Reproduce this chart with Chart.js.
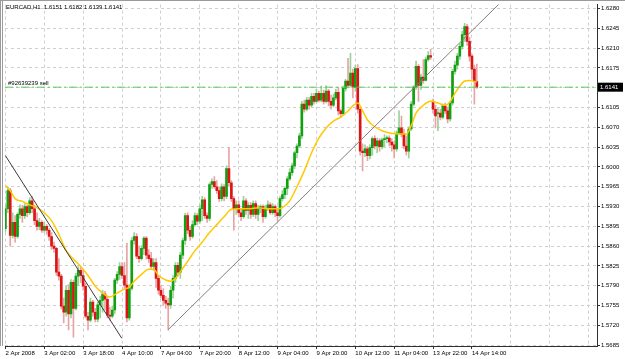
<!DOCTYPE html>
<html>
<head>
<meta charset="utf-8">
<script src="https://cdn.jsdelivr.net/npm/chart.js@4.4.1/dist/chart.umd.min.js"></script>
<style>
  html, body { margin: 0; padding: 0; background: #fff; }
  canvas { display: block; }
</style>
</head>
<body>
<canvas id="grafico" width="625" height="359"></canvas>
<script>
// EURCAD H1, 2 Apr 2008 10:00 -> 14 Apr 2008 ~16:00
const symbol = 'EURCAD,H1';
const orderLabel = '#92639239 sell';
const orderPrice = 1.6141;

const xTickIndex = [0, 16, 32, 48, 64, 80, 96, 112, 128, 144, 160, 176, 192, 208, 224, 240];
const xTickLabels = ['2 Apr 2008', '3 Apr 02:00', '3 Apr 18:00', '4 Apr 10:00', '7 Apr 04:00', '7 Apr 20:00',
    '8 Apr 12:00', '9 Apr 04:00', '9 Apr 20:00', '10 Apr 12:00', '11 Apr 04:00', '13 Apr 22:00',
    '14 Apr 14:00', '', '', ''];
const yTicks = [1.5685, 1.5720, 1.5755, 1.5790, 1.5825, 1.5860, 1.5895, 1.5930, 1.5965, 1.6000,
    1.6035, 1.6070, 1.6105, 1.6140, 1.6175, 1.6210, 1.6245, 1.6280];

const opens = [
    1.5891, 1.5926, 1.5958, 1.5879, 1.5902, 1.5877, 1.5916, 1.5926, 1.5914, 1.5930,
    1.5919, 1.5940, 1.5926, 1.5905, 1.5895, 1.5902, 1.5888, 1.5895, 1.5888, 1.5877,
    1.5860, 1.5856, 1.5814, 1.5807, 1.5754, 1.5743, 1.5782, 1.5740, 1.5796, 1.5750,
    1.5807, 1.5817, 1.5808, 1.5789, 1.5736, 1.5729, 1.5761, 1.5743, 1.5731, 1.5756,
    1.5764, 1.5775, 1.5766, 1.5738, 1.5736, 1.5747, 1.5800, 1.5810, 1.5824, 1.5808,
    1.5791, 1.5733, 1.5785, 1.5870, 1.5877, 1.5842, 1.5838, 1.5856, 1.5874, 1.5844,
    1.5838, 1.5824, 1.5831, 1.5803, 1.5782, 1.5773, 1.5764, 1.5759, 1.5756, 1.5782,
    1.5803, 1.5826, 1.5814, 1.5844, 1.5870, 1.5914, 1.5888, 1.5877, 1.5898, 1.5914,
    1.5904, 1.5926, 1.5942, 1.5914, 1.5909, 1.5969, 1.5974, 1.5965, 1.5958, 1.5944,
    1.5965, 1.5948, 1.5997, 1.5972, 1.5944, 1.5926, 1.5933, 1.5919, 1.5912, 1.5940,
    1.5923, 1.5932, 1.5916, 1.5935, 1.5916, 1.5926, 1.5930, 1.5912, 1.5926, 1.5933,
    1.5919, 1.5930, 1.5919, 1.5914, 1.5944, 1.5951, 1.5962, 1.5979, 1.5990, 1.6002,
    1.6025, 1.6037, 1.6055, 1.6111, 1.6102, 1.6118, 1.6109, 1.6125, 1.6116, 1.6130,
    1.6118, 1.6130, 1.6116, 1.6134, 1.6116, 1.6109, 1.6122, 1.6132, 1.6099, 1.6094,
    1.6139, 1.6152, 1.6144, 1.6166, 1.6141, 1.6174, 1.6102, 1.6028, 1.6025, 1.6032,
    1.6020, 1.6034, 1.6050, 1.6037, 1.6046, 1.6036, 1.6048, 1.6050, 1.6051, 1.6044,
    1.6039, 1.6032, 1.6060, 1.6069, 1.6058, 1.6037, 1.6028, 1.6067, 1.6111, 1.6141,
    1.6178, 1.6144, 1.6159, 1.6153, 1.6190, 1.6197, 1.6116, 1.6102, 1.6094, 1.6095,
    1.6088, 1.6108, 1.6099, 1.6085, 1.6113, 1.6169, 1.6180, 1.6196, 1.6213, 1.6234,
    1.6248, 1.6222, 1.6196, 1.6173, 1.6151
];
const highs = [
    1.5933, 1.5965, 1.5962, 1.5919, 1.5914, 1.5919, 1.5933, 1.5932, 1.5935, 1.5933,
    1.5946, 1.5948, 1.5932, 1.5919, 1.5909, 1.5905, 1.5902, 1.5898, 1.5891, 1.5884,
    1.5867, 1.5858, 1.5838, 1.5810, 1.5768, 1.5789, 1.5792, 1.5801, 1.5800, 1.5812,
    1.5824, 1.5824, 1.5817, 1.5794, 1.5743, 1.5768, 1.5764, 1.5750, 1.5761, 1.5771,
    1.5782, 1.5780, 1.5771, 1.5752, 1.5754, 1.5803, 1.5815, 1.5831, 1.5831, 1.5831,
    1.5865, 1.5792, 1.5875, 1.5884, 1.5882, 1.5860, 1.5861, 1.5877, 1.5877, 1.5854,
    1.5849, 1.5838, 1.5838, 1.5808, 1.5791, 1.5785, 1.5771, 1.5768, 1.5789, 1.5808,
    1.5831, 1.5831, 1.5849, 1.5874, 1.5918, 1.5919, 1.5895, 1.5905, 1.5919, 1.5918,
    1.5932, 1.5948, 1.5946, 1.5919, 1.5972, 1.5979, 1.5983, 1.5976, 1.5965, 1.5970,
    1.5969, 1.6002, 1.6034, 1.5976, 1.5948, 1.5940, 1.5940, 1.5926, 1.5948, 1.5944,
    1.5937, 1.5937, 1.5940, 1.5940, 1.5932, 1.5933, 1.5933, 1.5932, 1.5940, 1.5937,
    1.5935, 1.5933, 1.5926, 1.5948, 1.5958, 1.5965, 1.5983, 1.5997, 1.6007, 1.6028,
    1.6041, 1.6060, 1.6116, 1.6118, 1.6123, 1.6123, 1.6130, 1.6130, 1.6137, 1.6134,
    1.6143, 1.6136, 1.6144, 1.6137, 1.6127, 1.6129, 1.6137, 1.6141, 1.6102, 1.6143,
    1.6155, 1.6192, 1.6201, 1.6173, 1.6180, 1.6181, 1.6106, 1.6041, 1.6039, 1.6036,
    1.6039, 1.6053, 1.6055, 1.6051, 1.6050, 1.6051, 1.6057, 1.6055, 1.6055, 1.6050,
    1.6046, 1.6064, 1.6099, 1.6090, 1.6067, 1.6055, 1.6071, 1.6116, 1.6144, 1.6187,
    1.6181, 1.6164, 1.6190, 1.6194, 1.6204, 1.6208, 1.6120, 1.6109, 1.6104, 1.6102,
    1.6111, 1.6113, 1.6106, 1.6116, 1.6173, 1.6187, 1.6201, 1.6218, 1.6240, 1.6254,
    1.6252, 1.6229, 1.6199, 1.6180, 1.6182
];
const lows = [
    1.5884, 1.5919, 1.5860, 1.5874, 1.5867, 1.5874, 1.5909, 1.5902, 1.5909, 1.5912,
    1.5916, 1.5919, 1.5898, 1.5888, 1.5889, 1.5884, 1.5884, 1.5881, 1.5870, 1.5854,
    1.5849, 1.5808, 1.5800, 1.5749, 1.5724, 1.5736, 1.5712, 1.5733, 1.5699, 1.5747,
    1.5791, 1.5796, 1.5782, 1.5733, 1.5712, 1.5726, 1.5736, 1.5726, 1.5726, 1.5733,
    1.5743, 1.5747, 1.5733, 1.5729, 1.5733, 1.5740, 1.5794, 1.5801, 1.5803, 1.5785,
    1.5726, 1.5729, 1.5782, 1.5863, 1.5838, 1.5831, 1.5835, 1.5845, 1.5837, 1.5831,
    1.5819, 1.5817, 1.5787, 1.5775, 1.5768, 1.5756, 1.5750, 1.5712, 1.5750, 1.5768,
    1.5796, 1.5807, 1.5803, 1.5838, 1.5863, 1.5882, 1.5870, 1.5874, 1.5895, 1.5898,
    1.5900, 1.5905, 1.5909, 1.5902, 1.5905, 1.5962, 1.5962, 1.5953, 1.5939, 1.5940,
    1.5940, 1.5944, 1.5967, 1.5939, 1.5888, 1.5916, 1.5912, 1.5905, 1.5909, 1.5916,
    1.5909, 1.5909, 1.5912, 1.5909, 1.5905, 1.5919, 1.5902, 1.5909, 1.5923, 1.5916,
    1.5916, 1.5912, 1.5905, 1.5911, 1.5940, 1.5944, 1.5951, 1.5976, 1.5985, 1.5997,
    1.6016, 1.6034, 1.6050, 1.6097, 1.6099, 1.6102, 1.6106, 1.6111, 1.6113, 1.6115,
    1.6115, 1.6111, 1.6113, 1.6108, 1.6102, 1.6106, 1.6118, 1.6092, 1.6087, 1.6092,
    1.6134, 1.6141, 1.6141, 1.6122, 1.6134, 1.6095, 1.6021, 1.5993, 1.6018, 1.6011,
    1.6014, 1.6021, 1.6032, 1.6025, 1.6028, 1.6032, 1.6036, 1.6043, 1.6037, 1.6028,
    1.6016, 1.6028, 1.6057, 1.6053, 1.6032, 1.6021, 1.6016, 1.6064, 1.6108, 1.6137,
    1.6116, 1.6137, 1.6148, 1.6152, 1.6187, 1.6190, 1.6095, 1.6069, 1.6064, 1.6083,
    1.6085, 1.6094, 1.6078, 1.6081, 1.6109, 1.6164, 1.6173, 1.6190, 1.6208, 1.6222,
    1.6215, 1.6187, 1.6155, 1.6111, 1.6139
];
const closes = [
    1.5926, 1.5958, 1.5879, 1.5902, 1.5877, 1.5916, 1.5926, 1.5914, 1.5930, 1.5919,
    1.5940, 1.5926, 1.5905, 1.5895, 1.5902, 1.5888, 1.5895, 1.5888, 1.5877, 1.5860,
    1.5856, 1.5814, 1.5807, 1.5754, 1.5743, 1.5782, 1.5740, 1.5796, 1.5750, 1.5807,
    1.5817, 1.5808, 1.5789, 1.5736, 1.5729, 1.5761, 1.5743, 1.5731, 1.5756, 1.5764,
    1.5775, 1.5766, 1.5738, 1.5736, 1.5747, 1.5800, 1.5810, 1.5824, 1.5808, 1.5791,
    1.5733, 1.5785, 1.5870, 1.5877, 1.5842, 1.5838, 1.5856, 1.5874, 1.5844, 1.5838,
    1.5824, 1.5831, 1.5803, 1.5782, 1.5773, 1.5764, 1.5759, 1.5756, 1.5782, 1.5803,
    1.5826, 1.5814, 1.5844, 1.5870, 1.5914, 1.5888, 1.5877, 1.5898, 1.5914, 1.5904,
    1.5926, 1.5942, 1.5914, 1.5909, 1.5969, 1.5974, 1.5965, 1.5958, 1.5944, 1.5965,
    1.5948, 1.5997, 1.5972, 1.5944, 1.5926, 1.5933, 1.5919, 1.5912, 1.5940, 1.5923,
    1.5932, 1.5916, 1.5935, 1.5916, 1.5926, 1.5930, 1.5912, 1.5926, 1.5933, 1.5919,
    1.5930, 1.5919, 1.5914, 1.5944, 1.5951, 1.5962, 1.5979, 1.5990, 1.6002, 1.6025,
    1.6037, 1.6055, 1.6111, 1.6102, 1.6118, 1.6109, 1.6125, 1.6116, 1.6130, 1.6118,
    1.6130, 1.6116, 1.6134, 1.6116, 1.6109, 1.6122, 1.6132, 1.6099, 1.6094, 1.6139,
    1.6152, 1.6144, 1.6166, 1.6141, 1.6174, 1.6102, 1.6028, 1.6025, 1.6032, 1.6020,
    1.6034, 1.6050, 1.6037, 1.6046, 1.6036, 1.6048, 1.6050, 1.6051, 1.6044, 1.6039,
    1.6032, 1.6060, 1.6069, 1.6058, 1.6037, 1.6028, 1.6067, 1.6111, 1.6141, 1.6178,
    1.6144, 1.6159, 1.6153, 1.6190, 1.6197, 1.6194, 1.6102, 1.6090, 1.6095, 1.6088,
    1.6108, 1.6099, 1.6085, 1.6113, 1.6169, 1.6180, 1.6196, 1.6213, 1.6234, 1.6248,
    1.6222, 1.6196, 1.6173, 1.6151, 1.6141
];

// moving average (yellow), read at these bars
const maIndex = [0, 2, 4, 7, 10, 13, 16, 19, 22, 25, 28, 31, 34, 37, 40, 43, 46, 49, 51, 53,
    56, 59, 61, 63, 66, 68, 70, 72, 75, 78, 81, 84, 87, 90, 93, 96, 100, 104, 108, 112,
    114, 117, 120, 123, 126, 129, 132, 135, 138, 141, 143, 145, 147, 149, 152, 155, 158, 162, 165, 167,
    169, 172, 175, 178, 181, 183, 185, 187, 189, 191, 194];
const maValues = [1.5967, 1.5958, 1.5944, 1.5939, 1.5933, 1.5928, 1.5919, 1.5905, 1.5881, 1.5852,
    1.5837, 1.5824, 1.5808, 1.5789, 1.5777, 1.5770, 1.5777, 1.5784, 1.5787, 1.5798,
    1.5810, 1.5819, 1.5819, 1.5808, 1.5800, 1.5798, 1.5803, 1.5815, 1.5833, 1.5852,
    1.5867, 1.5884, 1.5898, 1.5912, 1.5925, 1.5926, 1.5926, 1.5928, 1.5926, 1.5926,
    1.5928, 1.5940, 1.5965, 1.5993, 1.6025, 1.6051, 1.6069, 1.6081, 1.6088, 1.6099,
    1.6108, 1.6113, 1.6099, 1.6083, 1.6071, 1.6064, 1.6060, 1.6058, 1.6058, 1.6073,
    1.6095, 1.6109, 1.6116, 1.6113, 1.6109, 1.6115, 1.6130, 1.6143, 1.6152, 1.6153, 1.6150];

// trend lines (bar index, price)
const downTrendIndex = [0, 47.9];
const downTrendValues = [1.6020, 1.5697];
const upTrendIndex = [66.9, 206];
const upTrendValues = [1.5712, 1.6300];

const font6 = { family: 'Liberation Sans', size: 6 };
const isUp = i => closes[i] >= opens[i];
const points = (xs, ys) => xs.map((x, k) => ({ x: x, y: ys[k] }));

const overlay = {
    id: 'overlay',
    afterDraw(chart) {
        const { ctx, chartArea, scales } = chart;
        const last = opens.length - 1;
        const py = scales.y.getPixelForValue(orderPrice);
        ctx.save();
        // window frame
        ctx.strokeStyle = '#9a9a9a';
        ctx.lineWidth = 1;
        ctx.beginPath();
        ctx.moveTo(0, 0.5); ctx.lineTo(chart.width, 0.5);
        ctx.moveTo(0.5, 0); ctx.lineTo(0.5, chartArea.bottom);
        ctx.moveTo(2.5, 0); ctx.lineTo(2.5, chartArea.bottom);
        ctx.stroke();

        ctx.font = '6px "Liberation Sans"';
        ctx.textBaseline = 'middle';
        ctx.fillStyle = '#000';
        ctx.fillText(symbol + '  ' + [opens[last], highs[last], lows[last], closes[last]]
            .map(v => v.toFixed(4)).join(' '), 6, 7);
        ctx.fillText(orderLabel, 8, py - 4);

        // current price box on the axis
        ctx.fillStyle = '#000';
        ctx.fillRect(chartArea.right + 1, py - 4.5, 25, 9);
        ctx.fillStyle = '#fff';
        ctx.fillText(orderPrice.toFixed(4), chartArea.right + 3, py);
        ctx.restore();
    }
};

new Chart(document.getElementById('grafico'), {
    type: 'bar',
    data: {
        datasets: [{
            type: 'line',
            label: orderLabel,
            data: points([-0.16, 243.46], [orderPrice, orderPrice]),
            borderColor: '#56cc56',
            borderWidth: 1,
            borderDash: [8, 3, 2, 3],
            pointRadius: 0,
            order: 0
        }, {
            type: 'line',
            label: 'down trend',
            data: points(downTrendIndex, downTrendValues),
            borderColor: '#3c3c3c',
            borderWidth: 1,
            pointRadius: 0,
            order: 0
        }, {
            type: 'line',
            label: 'up trend',
            data: points(upTrendIndex, upTrendValues),
            borderColor: '#8a7c7c',
            borderWidth: 1,
            pointRadius: 0,
            order: 0
        }, {
            type: 'line',
            label: 'MA',
            data: points(maIndex, maValues),
            borderColor: '#ffc800',
            borderWidth: 1.5,
            pointRadius: 0,
            cubicInterpolationMode: 'monotone',
            order: 1
        }, {
            label: 'body',
            data: opens.map((o, i) => ({ x: i, y: [o, closes[i]] })),
            backgroundColor: c => isUp(c.dataIndex) ? '#10a010' : '#dc1414',
            barThickness: 2,
            minBarLength: 1,
            grouped: false,
            order: 2
        }, {
            label: 'wick',
            data: lows.map((l, i) => ({ x: i, y: [l, highs[i]] })),
            backgroundColor: c => isUp(c.dataIndex) ? '#9ad29a' : '#e8a4a4',
            barThickness: 1,
            grouped: false,
            order: 3
        }]
    },
    options: {
        responsive: false,
        animation: false,
        events: [],
        layout: { padding: { top: 3, left: 5, right: 0, bottom: 0 } },
        plugins: {
            legend: { display: false },
            tooltip: { enabled: false }
        },
        scales: {
            x: {
                type: 'linear',
                min: -0.16,
                max: 243.46,
                offset: false,
                afterBuildTicks: s => { s.ticks = xTickIndex.map(v => ({ value: v })); },
                afterFit: s => { s.height = 13; },
                grid: {
                    offset: false,
                    color: '#cfcfcf',
                    tickLength: 3,
                    tickColor: c => xTickLabels[c.index] ? '#303030' : 'rgba(0,0,0,0)',
                    tickBorderDash: []
                },
                border: { color: '#303030', dash: [3, 3] },
                ticks: {
                    autoSkip: false,
                    maxRotation: 0,
                    minRotation: 0,
                    align: 'start',
                    padding: 1,
                    color: '#000',
                    font: font6,
                    callback: v => xTickLabels[xTickIndex.indexOf(v)] || ''
                }
            },
            y: {
                position: 'right',
                min: 1.56834,
                max: 1.6287,
                afterBuildTicks: s => { s.ticks = yTicks.map(v => ({ value: v })); },
                afterFit: s => { s.width = 28; },
                grid: { color: '#cfcfcf', tickLength: 3, tickColor: '#303030', tickBorderDash: [] },
                border: { color: '#303030', dash: [3, 3] },
                ticks: {
                    autoSkip: false,
                    padding: 1,
                    color: '#000',
                    font: font6,
                    callback: v => v.toFixed(4)
                }
            }
        }
    },
    plugins: [overlay]
});
</script>
</body>
</html>
